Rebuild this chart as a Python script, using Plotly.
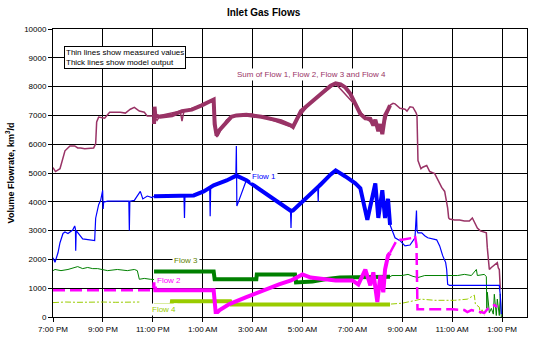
import plotly.graph_objects as go

# ---------------- data (hours after 7:00 PM, km3/d) ----------------
tick_hours = [0, 2, 4, 6, 8, 10, 12, 14, 16, 18]
tick_labels = ["7:00 PM", "9:00 PM", "11:00 PM", "1:00 AM", "3:00 AM",
               "5:00 AM", "7:00 AM", "9:00 AM", "11:00 AM", "1:00 PM"]

sum_meas_h = [0, 0.1, 0.28, 0.4, 0.48, 0.68, 0.87, 0.99, 1.11, 1.27, 1.47, 1.63, 1.71, 1.73,
              1.75, 1.83, 2.07, 2.27, 2.5, 2.7, 2.9, 3.1, 3.26, 3.46, 3.66, 3.78, 3.97, 4.05,
              4.17, 4.3, 5.1, 5.17, 5.25, 5.96, 6.44, 6.56, 6.96, 7.35, 7.95, 8.74, 9.54,
              10.33, 11.33, 12.12, 12.52, 13.2, 13.51, 13.63, 13.71, 13.79, 13.91, 14.11,
              14.19, 14.31, 14.43, 14.55, 14.59, 14.63, 14.75, 14.82, 14.98, 15.1, 15.3,
              15.5, 15.58, 15.7, 15.78, 15.82, 15.86, 15.9, 16.1, 16.3, 16.49, 16.69,
              16.81, 16.93, 17.01, 17.13, 17.25, 17.37, 17.41, 17.45, 17.49, 17.57, 17.69,
              17.81, 17.85, 17.89, 17.93]
sum_meas_v = [5190, 5050, 5150, 5570, 5770, 5940, 5940, 5870, 5870, 5840, 5870, 5870, 6010, 6420,
              6770, 6940, 6900, 7110, 7110, 7110, 7080, 7215, 7280, 7150, 7110, 6975, 6975, 7000,
              6830, 7000, 7150, 6800, 7150, 7350, 7550, 6250, 6850, 7000, 7050, 6850, 6600,
              7450, 8100, 7350, 6900, 6500, 7350, 7420, 7400, 7350, 7250, 7215,
              7150, 7300, 7280, 7100, 7000, 5430, 5150, 5200, 5260, 5050, 4980,
              4640, 4500, 4360, 4020, 3780, 3440, 3400, 3370, 3370, 3330, 3330,
              3440, 3260, 3090, 2990, 2950, 2920, 2400, 1990, 1650, 1720, 1790,
              1890, 1700, 1650, 960]

sum_model_h = [4.05, 4.07, 4.1, 4.3, 4.77, 5.17, 5.56, 5.96, 6.28, 6.44, 6.48, 6.56, 6.68, 6.96,
               7.15, 7.35, 7.75, 8.35, 8.74, 9.14, 9.54, 9.62, 9.94, 10.33, 10.73, 11.13,
               11.33, 11.53, 11.72, 11.92, 12.12, 12.32, 12.52, 12.72, 12.84, 12.92, 13.04,
               13.12, 13.2, 13.31, 13.43, 13.51]
sum_model_v = [6700, 7300, 7000, 6950, 7000, 7150, 7200, 7350, 7480, 7550, 6700, 6300, 6500, 6800,
               6950, 7000, 7020, 6950, 6880, 6800, 6650, 6600, 7150, 7450, 7750, 8030,
               8110, 8080, 7970, 7750, 7400, 7050, 6900, 6880, 6650, 6850, 6450,
               6700, 6350, 7000, 7200, 7350]

f1_meas_h = [0, 0.08, 0.2, 0.28, 0.4, 0.48, 0.6, 0.79, 0.87, 0.9, 0.91, 0.93, 1.19, 1.59, 1.67,
             1.71, 1.79, 1.83, 1.91, 1.99, 2.01, 2.03, 2.07, 2.19, 2.58, 2.98, 3.04, 3.06, 3.08,
             3.26, 3.5, 3.6, 3.78, 3.97, 4.05, 5.25, 5.27, 5.29, 5.64, 6.04, 6.28, 6.3, 6.32,
             6.44, 6.96, 7.33, 7.35, 7.37, 7.75, 8.35, 8.74, 9.14, 9.52, 9.54, 9.56, 10.33,
             10.61, 10.63, 10.65, 11.13, 11.33, 11.72, 12.12, 12.32, 12.6, 12.92, 13.04, 13.2,
             13.31, 13.43, 13.51, 13.59, 13.71, 13.91, 14.11, 14.31, 14.51, 14.57, 14.59,
             14.63, 14.78, 14.9, 15.02, 15.38, 15.5, 15.62, 15.74, 15.78, 15.82, 15.9, 17.89,
             17.93, 17.97]
f1_meas_v = [2060, 1900, 2230, 2580, 2900, 2950, 2900, 3020, 3160, 3050, 2300, 3000, 2710, 2650, 2650,
             3430, 3700, 3900, 4050, 4400, 3750, 4000, 4000, 4020, 4020, 4020, 4020, 3000, 4020,
             4050, 4360, 4100, 4200, 4150, 4190, 4190, 3440, 4190, 4220, 4360, 4500, 3500, 4500,
             4570, 4740, 4910, 5940, 3850, 4750, 4400, 4150, 3900, 3700, 3090, 3700, 4250,
             4550, 4000, 4600, 4950, 5090, 4880, 4640, 4470, 3370, 4640, 3440, 4400,
             3440, 4100, 3200, 3020, 2750, 2650, 2470, 2500, 2750, 3700, 3000,
             2920, 2920, 2820, 2750, 2680, 2470, 2130, 1890, 1650, 1130, 1100, 1100,
             750, 100]

f1_model_h = [4.05, 5.56, 5.64, 6.04, 6.44, 6.96, 7.35, 7.75, 8.35, 8.74, 9.14, 9.54, 9.62, 10.33,
              10.73, 11.13, 11.33, 11.72, 12.12, 12.32, 12.6, 12.92, 13.04, 13.2, 13.31, 13.43,
              13.51]
f1_model_v = [4190, 4190, 4220, 4360, 4570, 4740, 4910, 4750, 4400, 4150, 3900, 3680, 3700, 4250,
              4600, 4950, 5090, 4880, 4640, 4470, 3370, 4640, 3440, 4400, 3440, 4100,
              3200]

f2_meas_h = [0, 3.97, None, 13.51, 13.79, 13.99, 14.43, 14.51, 14.57, 14.61, 14.9, 15.58, 16.02,
             16.49, 16.61, 16.77, 17.17, 17.29, 17.41, 17.69, 17.81]
f2_meas_v = [930, 930, None, 2230, 2680, 2680, 2750, 2820, 2500, 270, 270, 270, 270,
             240, 170, 240, 170, 140, 270, 410, 350]

f2_model_h = [4.05, 4.07, 4.1, 6.44, 6.52, 6.6, 6.68, 7.07, 7.75, 8.43, 9.06, 9.54, 10.0, 10.33,
              10.9, 11.33, 12.0, 12.24, 12.52, 12.72, 12.84, 13.0, 13.12, 13.24, 13.31, 13.43,
              13.51]
f2_model_v = [1000, 1200, 930, 930, 170, 170, 240, 450, 690, 930, 1130, 1270, 1480, 1370,
              1310, 1270, 1270, 1130, 1650, 1100, 1550, 520, 1440, 860, 1650, 2130,
              2230]

f3_meas_h = [0, 0.08, 0.32, 0.6, 0.99, 1.19, 1.39, 1.59, 1.79, 2.19, 2.58, 2.98, 3.26, 3.38, 3.46,
             3.66, 3.9, 4.05, None, 13.51, 13.59, 13.99, 14.23, 14.43, 14.63, 14.9, 15.3, 15.7,
             16.22, 16.49, 16.77, 16.97, 17.01, 17.29, 17.37, 17.39, 17.41, 17.49, 17.57, 17.65,
             17.69, 17.77, 17.81, 17.89, 17.93, 17.97]
f3_meas_v = [1610, 1650, 1610, 1650, 1750, 1680, 1720, 1680, 1680, 1610, 1650, 1610, 1650, 1610, 1310,
             1340, 1310, 1300, None, 1400, 1440, 1440, 1480, 1410, 1370, 1440, 1440, 1440,
             1440, 1480, 1440, 1650, 1440, 1480, 1400, 300, 860, 150, 300, 100,
             790, 50, 620, 50, 800, 0]

f3_model_h = [4.05, 6.44, 6.48, 8.15, 8.17, 9.7, 9.74, 10.4, 10.9, 11.5, 13.51]
f3_model_v = [1580, 1580, 1310, 1310, 1480, 1480, 1200, 1230, 1310, 1370, 1400]

f4_meas_h = [0, 0.5, 1.0, 1.5, 2.0, 2.5, 3.0, 3.46, None, 13.55, 14.0, 14.55, 14.75, 15.3, 16.1,
             16.61, 16.89, 16.93, 17.09, 17.13, 17.2, 17.29]
f4_meas_v = [500, 520, 510, 520, 520, 510, 520, 520, None, 450, 480, 580, 620, 580, 580,
             620, 760, 450, 340, 100, 250, 60]

f4_model_h = [4.05, 4.75, 4.77, 7.1, 7.15, 13.51]
f4_model_v = [410, 410, 550, 550, 430, 430]

# ---------------- styling ----------------
C_SUM = "#993366"
C_F1 = "#0000FF"
C_F2 = "#FF00FF"
C_F3 = "#008000"
C_F4 = "#99CC00"
FONT = "Liberation Sans, Arial, sans-serif"

fig = go.Figure()

def add(xs, ys, color, width, dash="solid"):
    fig.add_trace(go.Scatter(x=xs, y=ys, mode="lines", connectgaps=False,
                             line=dict(color=color, width=width, dash=dash),
                             showlegend=False, hoverinfo="skip"))

# measured (thin)
add(sum_meas_h, sum_meas_v, C_SUM, 1.5)
add(f3_meas_h, f3_meas_v, C_F3, 1)
add(f4_meas_h, f4_meas_v, C_F4, 1, "6px,2px,2px,2px")
add(f1_meas_h, f1_meas_v, C_F1, 1.2)
add(f2_meas_h, f2_meas_v, C_F2, 2.5, "12px,5px")
# model (thick)
add(sum_model_h, sum_model_v, C_SUM, 4)
add(f1_model_h, f1_model_v, C_F1, 4)
add(f3_model_h, f3_model_v, C_F3, 4)
add(f4_model_h, f4_model_v, C_F4, 4)
add(f2_model_h, f2_model_v, C_F2, 4)

annots = [
    dict(x=10.37, y=8420, text="Sum of Flow 1, Flow 2, Flow 3 and Flow 4", color=C_SUM),
    dict(x=8.47, y=4880, text="Flow 1", color=C_F1),
    dict(x=5.33, y=1960, text="Flow 3", color="#5f7f00"),
    dict(x=4.65, y=1270, text="Flow 2", color=C_F2),
    dict(x=4.45, y=270, text="Flow 4", color=C_F4),
]
for a in annots:
    fig.add_annotation(x=a["x"], y=a["y"], text=a["text"], showarrow=False,
                       font=dict(family=FONT, size=8, color=a["color"]),
                       bgcolor="white", borderpad=1)

fig.add_annotation(x=2.9, y=9000, text="Thin lines show measured values<br>Thick lines show model output",
                   showarrow=False, align="left", font=dict(family=FONT, size=8, color="black"),
                   bgcolor="white", bordercolor="black", borderwidth=1, borderpad=1)

fig.update_layout(
    width=538, height=344,
    margin=dict(l=50, r=10, t=29, b=24),
    paper_bgcolor="white", plot_bgcolor="white",
    font=dict(family=FONT, size=8, color="black"),
    title=dict(text="<b>Inlet Gas Flows</b>", x=0.49, xanchor="center",
               y=1 - 12 / 344, yanchor="middle", font=dict(size=10, family=FONT)),
)
fig.update_xaxes(range=[0, 19], tickvals=tick_hours, ticktext=tick_labels,
                 showgrid=True, gridcolor="black", gridwidth=1,
                 showline=True, linecolor="black", linewidth=1, mirror=True,
                 ticks="outside", ticklen=4, tickcolor="black",
                 tickfont=dict(size=8), zeroline=False)
fig.update_yaxes(range=[0, 10000], dtick=1000, tickformat="d",
                 showgrid=True, gridcolor="black", gridwidth=1,
                 showline=True, linecolor="black", linewidth=1, mirror=True,
                 ticks="outside", ticklen=4, tickcolor="black",
                 tickfont=dict(size=8), zeroline=False,
                 title=dict(text="<b>Volume Flowrate, km<sup>3</sup>/d</b>", standoff=8,
                            font=dict(size=9)))

fig.write_html("out.html")
